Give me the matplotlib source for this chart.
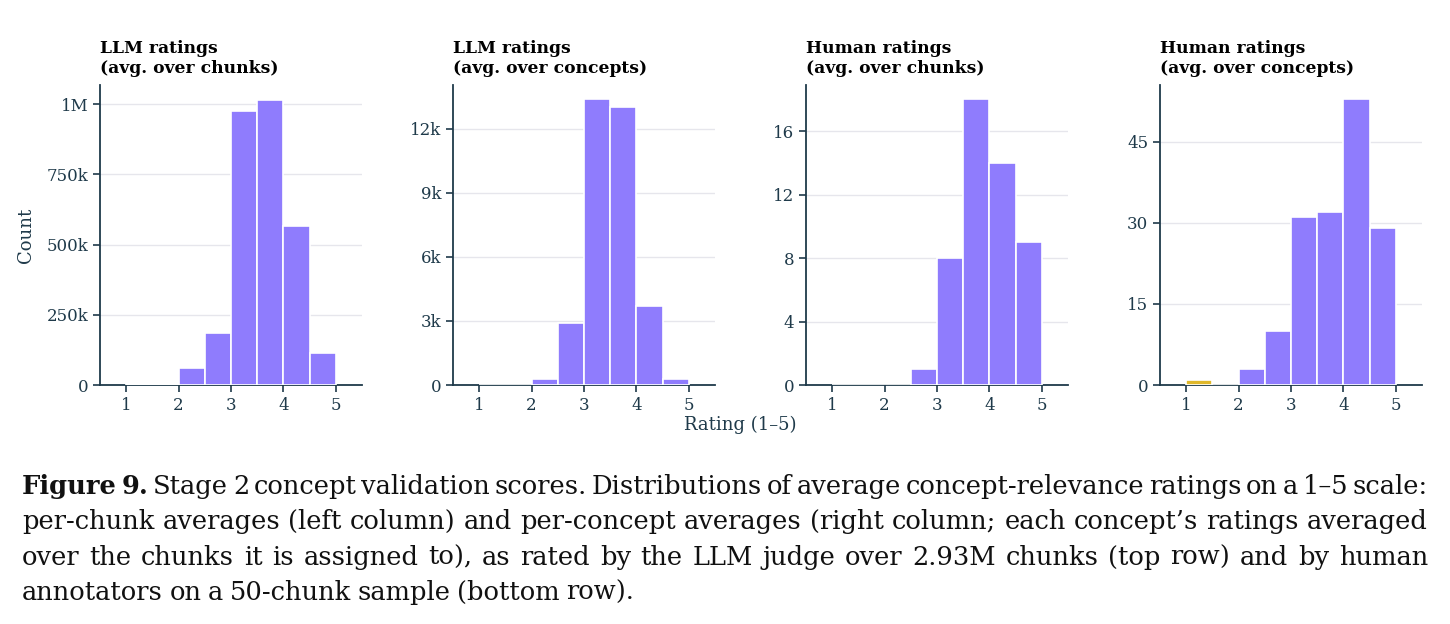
import numpy as np
import matplotlib.pyplot as plt

plt.rcParams['font.family'] = 'DejaVu Serif'

# 데이터: 0.5 간격 구간별 빈도 (1–1.5, 1.5–2, ..., 4.5–5)
bin_edges = [1.0, 1.5, 2.0, 2.5, 3.0, 3.5, 4.0, 4.5, 5.0]
llm_chunks = [5000, 3000, 62000, 185000, 975000, 1015000, 565000, 115000]
llm_concepts = [10, 10, 300, 2900, 13400, 13050, 3700, 300]
human_chunks = [0, 0, 0, 1, 8, 18, 14, 9]
human_concepts = [1, 0, 3, 10, 31, 32, 53, 29]

titles = ["LLM ratings\n(avg. over chunks)", "LLM ratings\n(avg. over concepts)",
          "Human ratings\n(avg. over chunks)", "Human ratings\n(avg. over concepts)"]
series = [llm_chunks, llm_concepts, human_chunks, human_concepts]
yticks = [[0, 250000, 500000, 750000, 1000000], [0, 3000, 6000, 9000, 12000],
          [0, 4, 8, 12, 16], [0, 15, 30, 45]]
yticklabels = [["0", "250k", "500k", "750k", "1M"], ["0", "3k", "6k", "9k", "12k"],
               ["0", "4", "8", "12", "16"], ["0", "15", "30", "45"]]
ytops = [1068000, 14060, 18.9, 55.5]

purple = '#8f7cfd'
yellow = '#e0b82a'
ink = '#1f3a4a'

W, H = 1450, 624
fig = plt.figure(figsize=(W / 100, H / 100), dpi=100)

lefts = [100, 453, 806, 1160]
for k in range(4):
    ax = fig.add_axes([lefts[k] / W, 1 - 385 / H, 262 / W, 300 / H])
    left = np.array(bin_edges[:-1])
    colors = [yellow if e < 2 else purple for e in left]
    ax.bar(left, series[k], width=0.5, align='edge', color=colors,
           edgecolor='white', linewidth=1.2, zorder=3)
    ax.set_xlim(0.5, 5.5)
    ax.set_ylim(0, ytops[k])
    ax.set_xticks([1, 2, 3, 4, 5])
    ax.set_yticks(yticks[k])
    ax.set_yticklabels(yticklabels[k])
    ax.grid(axis='y', color='#e6e6ec', linewidth=1, zorder=0)
    for s in ['top', 'right']:
        ax.spines[s].set_visible(False)
    for s in ['left', 'bottom']:
        ax.spines[s].set_color(ink)
        ax.spines[s].set_linewidth(1.3)
    ax.tick_params(colors=ink, labelsize=12, length=5, width=1.2)
    ax.text(0, 1.0 + 8 / 300, titles[k], transform=ax.transAxes, fontsize=12.3,
            fontweight='bold', ha='left', va='bottom', linespacing=1.2, color='black')
    if k == 0:
        ax.set_ylabel("Count", fontsize=13, color=ink, labelpad=8)

fig.text(740 / W, 1 - 425 / H, "Rating (1–5)", ha='center', va='center',
         fontsize=13, color=ink)

# 캡션 (양쪽 정렬)
caption = [
    [("Figure 9.", 'bold'), ("Stage 2 concept validation scores. Distributions of average concept-relevance ratings on a 1–5 scale:", 'normal')],
    [("per-chunk averages (left column) and per-concept averages (right column; each concept’s ratings averaged", 'normal')],
    [("over the chunks it is assigned to), as rated by the LLM judge over 2.93M chunks (top row) and by human", 'normal')],
    [("annotators on a 50-chunk sample (bottom row).", 'normal')],
]
x0, x1 = 22, 1428
baselines = [494, 529, 565, 600]
fig.canvas.draw()
r = fig.canvas.get_renderer()

size = 19.0
while True:
    all_arts, gaps = [], []
    for li, line in enumerate(caption):
        words = []
        for txt, wt in line:
            words += [(w, wt) for w in txt.split()]
        arts = [fig.text(0, 1 - baselines[li] / H, w, fontsize=size, fontweight=wt,
                         va='baseline', ha='left', color='#111111') for w, wt in words]
        widths = [a.get_window_extent(r).width for a in arts]
        if li < len(caption) - 1:
            gap = (x1 - x0 - sum(widths)) / (len(words) - 1)
            gaps.append(gap)
        else:
            gap = size * 0.35
        all_arts.append((arts, widths, gap))
    if min(gaps) >= size * 0.25 or size < 12:
        break
    for arts, _, _ in all_arts:
        for a in arts:
            a.remove()
    size -= 0.25

for arts, widths, gap in all_arts:
    x = x0
    for a, w in zip(arts, widths):
        a.set_x(x / W)
        x += w + gap

fig.savefig("out.png", dpi=100)
